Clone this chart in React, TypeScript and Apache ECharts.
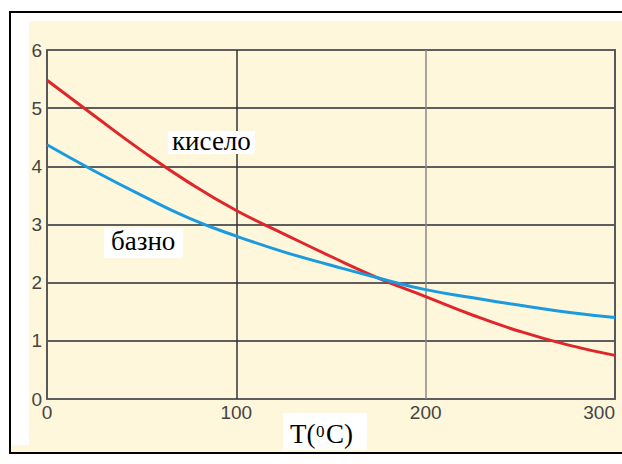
import React, { useEffect, useRef } from "react";
import * as echarts from "echarts";

const temps = [0, 25, 50, 75, 100, 125, 150, 175, 200, 225, 250, 275, 300];
const acidValues = [5.48, 4.87, 4.27, 3.72, 3.24, 2.84, 2.45, 2.08, 1.76, 1.44, 1.16, 0.93, 0.75];
const baseValues = [4.37, 3.92, 3.5, 3.11, 2.8, 2.53, 2.3, 2.08, 1.88, 1.74, 1.61, 1.49, 1.4];
const xTicks = [0, 100, 200, 300];
const acidLabel = "кисело";
const baseLabel = "базно";

const SERIF = '"Liberation Serif", "Times New Roman", serif';
const SANS = '"Liberation Sans", Arial, sans-serif';
const BEIGE = "#fef7dc";

export default function App() {
  const ref = useRef<HTMLDivElement>(null);
  useEffect(() => {
    const chart = echarts.init(ref.current!, null, { renderer: "svg" });
    chart.setOption({
      animation: false,
      grid: {
        left: 47,
        top: 50,
        right: 7,
        bottom: 65,
        show: true,
        borderColor: "#666",
        borderWidth: 2,
        backgroundColor: "transparent",
      },
      xAxis: {
        type: "value",
        min: xTicks[0],
        max: xTicks[xTicks.length - 1],
        interval: 100,
        axisLine: { show: false },
        axisTick: { show: false },
        axisLabel: {
          fontFamily: SANS,
          fontSize: 19,
          color: "#444",
          margin: 4,
          alignMaxLabel: "right",
        },
        splitLine: {
          show: true,
          lineStyle: { color: ["#555", "#333", "#8a8a8a", "#555"], width: 1.5 },
        },
      },
      yAxis: {
        type: "value",
        min: 0,
        max: 6,
        interval: 1,
        axisLine: { show: false },
        axisTick: { show: false },
        axisLabel: {
          fontFamily: SANS,
          fontSize: 19,
          color: "#444",
          margin: 5,
        },
        splitLine: { show: true, lineStyle: { color: "#5e5e5e", width: 1.8 } },
      },
      series: [
        {
          name: acidLabel,
          type: "line",
          smooth: true,
          symbol: "none",
          lineStyle: { color: "#e0262a", width: 3 },
          data: temps.map((t, i) => [t, acidValues[i]]),
          z: 3,
        },
        {
          name: baseLabel,
          type: "line",
          smooth: true,
          symbol: "none",
          lineStyle: { color: "#1a9be0", width: 3 },
          data: temps.map((t, i) => [t, baseValues[i]]),
          z: 4,
        },
      ],
      graphic: [
        { type: "rect", z: -100, shape: { x: 29, y: 21, width: 593, height: 431 }, style: { fill: BEIGE } },
        { type: "rect", z: -100, shape: { x: 11, y: 445, width: 18, height: 7 }, style: { fill: BEIGE } },
        { type: "line", z: 100, shape: { x1: 10, y1: 11, x2: 10, y2: 454 }, style: { stroke: "#000", lineWidth: 2 } },
        { type: "line", z: 100, shape: { x1: 9, y1: 12, x2: 622, y2: 12 }, style: { stroke: "#000", lineWidth: 2 } },
        { type: "line", z: 100, shape: { x1: 9, y1: 453, x2: 622, y2: 453 }, style: { stroke: "#000", lineWidth: 2 } },
        { type: "rect", z: 50, shape: { x: 168, y: 131, width: 87, height: 23 }, style: { fill: "#fff" } },
        {
          type: "text", z: 60, x: 172, y: 141,
          style: { text: acidLabel, font: `27px ${SERIF}`, fill: "#000", textAlign: "left", textVerticalAlign: "middle" },
        },
        { type: "rect", z: 50, shape: { x: 104, y: 228, width: 79, height: 30 }, style: { fill: "#fff" } },
        {
          type: "text", z: 60, x: 111, y: 241,
          style: { text: baseLabel, font: `27px ${SERIF}`, fill: "#000", textAlign: "left", textVerticalAlign: "middle" },
        },
        { type: "rect", z: 50, shape: { x: 283, y: 413, width: 84, height: 37 }, style: { fill: "#fff" } },
        {
          type: "text", z: 60, x: 290, y: 434,
          style: { text: "T(", font: `27px ${SERIF}`, fill: "#000", textAlign: "left", textVerticalAlign: "middle" },
        },
        {
          type: "text", z: 60, x: 316, y: 431,
          style: { text: "0", font: `17px ${SERIF}`, fill: "#000", textAlign: "left", textVerticalAlign: "middle" },
        },
        {
          type: "text", z: 60, x: 326, y: 434,
          style: { text: "C)", font: `27px ${SERIF}`, fill: "#000", textAlign: "left", textVerticalAlign: "middle" },
        },
      ],
    });
    return () => chart.dispose();
  }, []);
  return (
    <div
      ref={ref}
      style={{ position: "fixed", left: 0, top: 0, width: 622, height: 464, background: "#fff" }}
    />
  );
}
